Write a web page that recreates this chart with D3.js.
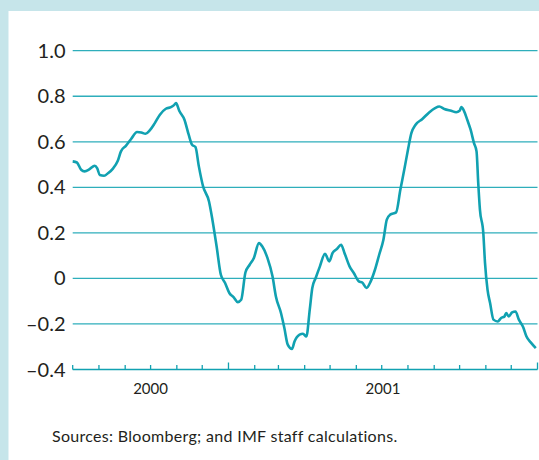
<!DOCTYPE html>
<html>
<head>
<meta charset="utf-8">
<script src="https://cdn.jsdelivr.net/npm/d3@7"></script>
<style>
  body { margin: 0; }
  svg { display: block; }
</style>
</head>
<body>
<div id="chart"></div>
<script>
// series
var dates = ["2000-07-01","2000-07-06","2000-07-11","2000-07-15","2000-07-21","2000-07-27","2000-07-30",
  "2000-08-02","2000-08-07","2000-08-12","2000-08-17","2000-08-23","2000-08-27","2000-09-02","2000-09-08",
  "2000-09-15","2000-09-20","2000-09-25","2000-09-30","2000-10-06","2000-10-12","2000-10-19","2000-10-25",
  "2000-10-29","2000-10-31","2000-11-04","2000-11-10","2000-11-15","2000-11-19","2000-11-23","2000-11-27",
  "2000-12-02","2000-12-09","2000-12-13","2000-12-18","2000-12-23","2000-12-28","2001-01-02","2001-01-07",
  "2001-01-12","2001-01-16","2001-01-21","2001-01-26","2001-01-31","2001-02-06","2001-02-10","2001-02-16",
  "2001-02-22","2001-02-26","2001-03-04","2001-03-08","2001-03-12","2001-03-17","2001-03-20","2001-03-26",
  "2001-03-30","2001-04-03","2001-04-07","2001-04-10","2001-04-14","2001-04-19","2001-04-25","2001-04-30",
  "2001-05-04","2001-05-09","2001-05-14","2001-05-18","2001-05-24","2001-05-29","2001-06-04","2001-06-08",
  "2001-06-13","2001-06-18","2001-06-23","2001-06-28","2001-07-03","2001-07-07","2001-07-11","2001-07-18",
  "2001-07-23","2001-07-28","2001-08-01","2001-08-05","2001-08-10","2001-08-18","2001-08-26","2001-09-02",
  "2001-09-07","2001-09-13","2001-09-21","2001-09-27","2001-10-01","2001-10-03","2001-10-06","2001-10-10",
  "2001-10-14","2001-10-18","2001-10-21","2001-10-23","2001-10-25","2001-10-29","2001-10-31","2001-11-03",
  "2001-11-06","2001-11-10","2001-11-15","2001-11-19","2001-11-23","2001-11-25","2001-11-28","2001-12-02",
  "2001-12-06","2001-12-10","2001-12-15","2001-12-19","2001-12-24","2001-12-30"];

var values = [0.514,0.509,0.477,0.470,0.480,0.495,0.483,
  0.454,0.451,0.463,0.480,0.514,0.558,0.583,0.612,
  0.643,0.641,0.635,0.650,0.682,0.719,0.745,0.752,
  0.762,0.770,0.735,0.697,0.631,0.587,0.577,0.492,
  0.404,0.338,0.258,0.140,0.016,-0.020,-0.064,-0.082,
  -0.104,-0.094,0.026,0.060,0.090,0.155,0.140,0.090,
  0.009,-0.079,-0.152,-0.218,-0.291,-0.310,-0.277,-0.247,
  -0.243,-0.255,-0.137,-0.042,0.002,0.053,0.108,0.075,
  0.112,0.129,0.148,0.112,0.053,0.024,-0.013,-0.018,
  -0.042,-0.013,0.038,0.104,0.170,0.258,0.280,0.290,
  0.389,0.485,0.565,0.638,0.675,0.700,0.729,0.748,
  0.755,0.744,0.736,0.730,0.736,0.752,0.737,0.697,
  0.653,0.594,0.558,0.419,0.302,0.199,0.068,-0.050,
  -0.108,-0.181,-0.189,-0.174,-0.167,-0.152,-0.167,-0.149,
  -0.145,-0.181,-0.213,-0.255,-0.281,-0.306];

var yTicks = [1.0, 0.8, 0.6, 0.4, 0.2, 0, -0.2, -0.4];
var yTickLabels = ["1.0", "0.8", "0.6", "0.4", "0.2", "0", "\u20130.2", "\u20130.4"];
var yearLabels = [{ year: "2000", from: "2000-07-01", to: "2001-01-01" },
                  { year: "2001", from: "2001-01-01", to: "2002-01-01" }];
var sourceNote = "Sources: Bloomberg; and IMF staff calculations.";

var width = 539, height = 460;
var margin = { top: 50.7, right: 1.5, bottom: 90.5, left: 72.7 };
var parse = d3.timeParse("%Y-%m-%d");

var data = dates.map(function(d, i) { return { date: parse(d), value: values[i] }; });

var x = d3.scaleTime()
    .domain([parse("2000-07-01"), parse("2002-01-01")])
    .range([margin.left, width - margin.right]);

var y = d3.scaleLinear()
    .domain([-0.4, 1.0])
    .range([height - margin.bottom, margin.top]);

var svg = d3.select("#chart").append("svg")
    .attr("width", width)
    .attr("height", height);

// light blue frame with white panel
svg.append("rect").attr("width", width).attr("height", height).attr("fill", "#c6e5ea");
svg.append("rect").attr("x", 8.5).attr("y", 11).attr("width", width - 8.5).attr("height", height - 11).attr("fill", "#ffffff");

var teal = "#11a1b1";
var font = "Lato, 'Open Sans', sans-serif";

// gridlines
svg.append("g")
  .selectAll("line")
  .data(yTicks.filter(function(d) { return d > -0.4; }))
  .enter().append("line")
    .attr("x1", margin.left)
    .attr("x2", width - margin.right)
    .attr("y1", function(d) { return y(d); })
    .attr("y2", function(d) { return y(d); })
    .attr("stroke", "#2eaebb")
    .attr("stroke-width", 1.3);

// y labels
svg.append("g")
  .selectAll("text")
  .data(yTicks)
  .enter().append("text")
    .attr("x", 65.5)
    .attr("y", function(d) { return y(d); })
    .attr("dy", "0.35em")
    .attr("text-anchor", "end")
    .attr("font-family", font)
    .attr("font-size", 20)
    .attr("fill", "#231f20")
    .text(function(d, i) { return yTickLabels[i]; });

// x axis: month ticks, longer at year boundaries
var xAxis = svg.append("g")
    .attr("transform", "translate(0," + y(-0.4) + ")");

xAxis.append("line")
    .attr("x1", margin.left)
    .attr("x2", width - margin.right)
    .attr("stroke", teal)
    .attr("stroke-width", 1.5);

var months = d3.timeMonth.range(parse("2000-07-01"), parse("2002-01-02"));
xAxis.selectAll(".tick")
  .data(months)
  .enter().append("line")
    .attr("class", "tick")
    .attr("x1", function(d) { return x(d); })
    .attr("x2", function(d) { return x(d); })
    .attr("y1", 0)
    .attr("y2", function(d) { return d.getMonth() === 0 ? -7 : -4.5; })
    .attr("stroke", teal)
    .attr("stroke-width", 1.3);

xAxis.selectAll(".year")
  .data(yearLabels)
  .enter().append("text")
    .attr("class", "year")
    .attr("x", function(d) { return (x(parse(d.from)) + x(parse(d.to))) / 2; })
    .attr("y", 24)
    .attr("text-anchor", "middle")
    .attr("font-family", font)
    .attr("font-size", 15)
    .attr("fill", "#231f20")
    .text(function(d) { return d.year; });

// the series
var line = d3.line()
    .x(function(d) { return x(d.date); })
    .y(function(d) { return y(d.value); })
    .curve(d3.curveMonotoneX);

svg.append("path")
    .datum(data)
    .attr("fill", "none")
    .attr("stroke", teal)
    .attr("stroke-width", 2.6)
    .attr("stroke-linejoin", "round")
    .attr("d", line);

// source note
svg.append("text")
    .attr("x", 52)
    .attr("y", 442)
    .attr("font-family", font)
    .attr("font-size", 16)
    .attr("letter-spacing", 0.3)
    .attr("fill", "#231f20")
    .text(sourceNote);
</script>
</body>
</html>
